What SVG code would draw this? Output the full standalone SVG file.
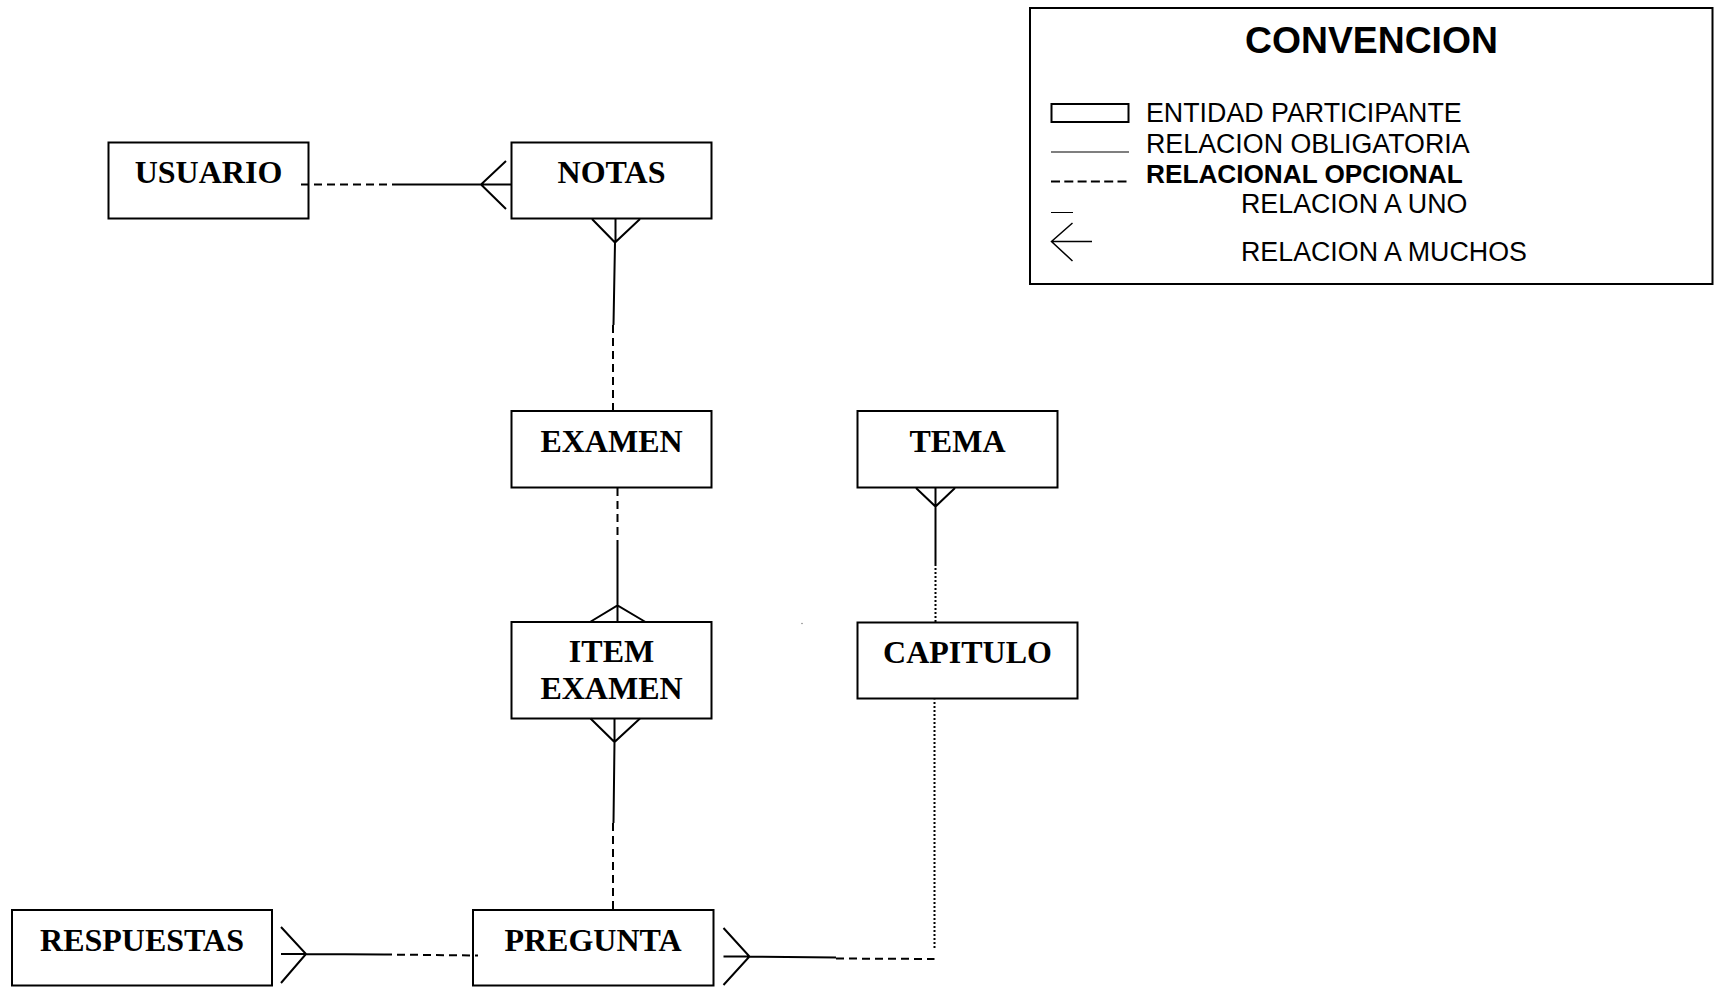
<svg xmlns="http://www.w3.org/2000/svg" width="1721" height="987" viewBox="0 0 1721 987">
  <style>
    .box { fill: #ffffff; stroke: #000000; stroke-width: 2; }
    .lbl { font-family: "Liberation Serif", "Times New Roman", serif; font-weight: bold; font-size: 32px; fill: #000000; text-anchor: middle; }
    .solid { fill: none; stroke: #000000; stroke-width: 2; }
    .dash { fill: none; stroke: #000000; stroke-width: 2; stroke-dasharray: 8 5; }
    .dot { fill: none; stroke: #000000; stroke-width: 2; stroke-dasharray: 2 2; }
    .leg { font-family: "Liberation Sans", Arial, sans-serif; font-size: 26.8px; fill: #000000; }
    .leg-b { font-family: "Liberation Sans", Arial, sans-serif; font-size: 26.2px; font-weight: bold; fill: #000000; }
  </style>
  <rect width="1721" height="987" fill="#ffffff"/>

  <!-- entities -->
  <g id="usuario">
    <rect class="box" x="108.5" y="142.5" width="200" height="76"/>
    <text class="lbl" x="208.5" y="183">USUARIO</text>
  </g>
  <g id="notas">
    <rect class="box" x="511.5" y="142.5" width="200" height="76"/>
    <text class="lbl" x="611.5" y="183">NOTAS</text>
  </g>
  <g id="examen">
    <rect class="box" x="511.5" y="411" width="200" height="76.5"/>
    <text class="lbl" x="611.5" y="451.5">EXAMEN</text>
  </g>
  <g id="tema">
    <rect class="box" x="857.5" y="411" width="200" height="76.5"/>
    <text class="lbl" x="957.5" y="451.5">TEMA</text>
  </g>
  <g id="item-examen">
    <rect class="box" x="511.5" y="622" width="200" height="96.5"/>
    <text class="lbl" x="611.5" y="662">ITEM</text>
    <text class="lbl" x="611.5" y="698.5">EXAMEN</text>
  </g>
  <g id="capitulo">
    <rect class="box" x="857.5" y="622.5" width="220" height="76"/>
    <text class="lbl" x="967.5" y="662.5">CAPITULO</text>
  </g>
  <g id="respuestas">
    <rect class="box" x="12" y="910" width="260" height="75.5"/>
    <text class="lbl" x="142" y="950.5">RESPUESTAS</text>
  </g>
  <g id="pregunta">
    <rect class="box" x="473" y="910" width="240.5" height="75.5"/>
    <text class="lbl" x="593" y="950.5">PREGUNTA</text>
  </g>

  <!-- relationships -->
  <g id="connectors">
    <!-- USUARIO - NOTAS -->
    <path class="dash" d="M301 184.5 H400"/>
    <path class="solid" d="M400 184.5 H511.5 M506 161 L481 184.5 L506 209"/>
    <!-- NOTAS - EXAMEN -->
    <path class="solid" d="M592 219 L615 242.5 L640 219 M615.5 219 V242.5 M615 242.5 L613.5 325"/>
    <path class="dash" d="M613 325 V416"/>
    <!-- EXAMEN - ITEM EXAMEN -->
    <path class="dash" d="M617.5 488 V548"/>
    <path class="solid" d="M617.5 548 V622 M590 622 L617.5 605.5 L645.5 622"/>
    <!-- ITEM EXAMEN - PREGUNTA -->
    <path class="solid" d="M590.5 718.5 L614.5 742 L640 718.5 M614.5 718.5 V742 M614.5 742 L613.5 823"/>
    <path class="dash" d="M613 823 V910"/>
    <!-- RESPUESTAS - PREGUNTA -->
    <path class="solid" d="M281 927 L306 954 L281 983 M281 954 H306 L384 954.5"/>
    <path class="dash" d="M384 954.5 L478 955.5"/>
    <!-- PREGUNTA - CAPITULO -->
    <path class="solid" d="M723.5 928 L749.5 956.5 L723.5 985 M723.5 956.5 H749.5 L836 957.5"/>
    <path class="dash" d="M836 958.5 L934.5 959"/>
    <path class="dot" d="M934.5 948 V699.5"/>
    <!-- TEMA - CAPITULO -->
    <path class="solid" d="M916 488 L935.5 506.5 L955 488 M935.5 488 V564"/>
    <path class="dot" d="M935.5 564 V622"/>
  </g>

  <circle cx="802" cy="623.5" r="0.8" fill="#888888"/>

  <!-- legend -->
  <g id="convencion">
    <rect x="1030" y="8" width="682.5" height="276" fill="none" stroke="#000000" stroke-width="2"/>
    <text x="1371.5" y="52.5" font-family="'Liberation Sans', Arial, sans-serif" font-weight="bold" font-size="37.3" text-anchor="middle">CONVENCION</text>
    <rect x="1051.5" y="104" width="77" height="18" fill="none" stroke="#000000" stroke-width="2"/>
    <text class="leg" x="1146" y="122">ENTIDAD PARTICIPANTE</text>
    <line x1="1051" y1="152" x2="1129" y2="152" stroke="#000000" stroke-width="1.2"/>
    <text class="leg" x="1146" y="152.5">RELACION OBLIGATORIA</text>
    <line x1="1051" y1="181.5" x2="1129" y2="181.5" stroke="#000000" stroke-width="2" stroke-dasharray="9 4.3"/>
    <text class="leg-b" x="1146" y="183">RELACIONAL OPCIONAL</text>
    <line x1="1051" y1="212.5" x2="1073" y2="212.5" stroke="#000000" stroke-width="1"/>
    <text class="leg" x="1241" y="212.5">RELACION A UNO</text>
    <path d="M1072.5 223 L1051.5 241.5 L1072.5 261 M1051.5 241.5 H1092" fill="none" stroke="#000000" stroke-width="1.5"/>
    <text class="leg" x="1241" y="261">RELACION A MUCHOS</text>
  </g>
</svg>
